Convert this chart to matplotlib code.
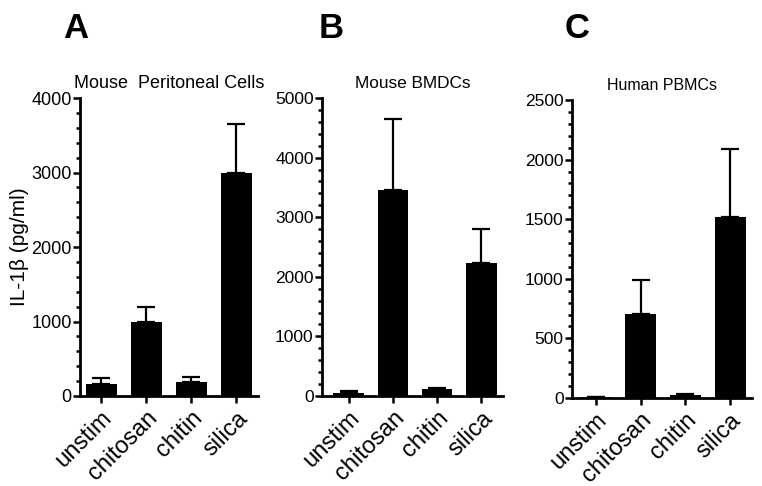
import matplotlib
matplotlib.use("Agg")
import matplotlib.pyplot as plt
from matplotlib.ticker import AutoMinorLocator, MultipleLocator

# ── Data ──────────────────────────────────────────────────────────────────
categories = ["unstim", "chitosan", "chitin", "silica"]

peritoneal_mean = [166, 989, 184, 2998]
peritoneal_err = [81, 211, 77, 651]

bmdc_mean = [55, 3464, 112, 2235]
bmdc_err = [25, 1190, 28, 575]

pbmc_mean = [5, 704, 28, 1522]
pbmc_err = [3, 282, 5, 570]

titles = ["Mouse  Peritoneal Cells", "Mouse BMDCs", "Human PBMCs"]
letters = ["A", "B", "C"]
ymax = [4000, 5000, 2500]
ystep = [1000, 1000, 500]

# ── Layout ────────────────────────────────────────────────────────────────
plt.rcParams["font.family"] = ["Liberation Sans", "DejaVu Sans"]

fig = plt.figure(figsize=(7.62, 4.86), dpi=100)
W, H = 762, 486
boxes = [(80, 258, 98, 396), (322, 503, 98, 396), (572, 752, 100, 398)]
xlims = [(-0.47, 3.48), (-0.6, 3.49), (-0.54, 3.49)]
title_sizes = [13, 12.4, 11.5]
tick_sizes = [13, 12.5, 12.5]
letter_x = [76, 331, 577]

series = [(peritoneal_mean, peritoneal_err),
          (bmdc_mean, bmdc_err),
          (pbmc_mean, pbmc_err)]

for i, (mean, err) in enumerate(series):
    x0, x1, y0, y1 = boxes[i]
    ax = fig.add_axes([x0 / W, 1 - y1 / H, (x1 - x0) / W, (y1 - y0) / H])
    pos = list(range(len(categories)))
    ax.bar(pos, mean, width=0.69, color="black", zorder=2)
    ax.errorbar(pos, mean, yerr=[[0] * len(err), err], fmt="none",
                ecolor="black", elinewidth=1.6, capsize=6.5, capthick=1.6,
                zorder=1)
    ax.set_xlim(*xlims[i])
    ax.set_ylim(0, ymax[i])
    ax.yaxis.set_major_locator(MultipleLocator(ystep[i]))
    ax.yaxis.set_minor_locator(AutoMinorLocator(5))
    ax.set_xticks(pos)
    ax.set_xticklabels(categories, rotation=45, ha="right",
                       rotation_mode="anchor", fontsize=17)
    ax.tick_params(axis="y", labelsize=tick_sizes[i], width=1.8, length=5,
                   pad=1)
    ax.tick_params(axis="y", which="minor", width=1.8, length=3)
    ax.tick_params(axis="x", width=1.8, length=5, pad=3)
    for s in ["top", "right"]:
        ax.spines[s].set_visible(False)
    for s in ["left", "bottom"]:
        ax.spines[s].set_linewidth(2.0)
    ax.set_title(titles[i], fontsize=title_sizes[i], pad=7)
    fig.text(letter_x[i] / W, 1 - 28 / H, letters[i], fontsize=25,
             fontweight="bold", ha="center", va="center")
    if i == 0:
        ax.set_ylabel("IL-1β (pg/ml)", fontsize=15, labelpad=2)

fig.savefig("out.png", dpi=100)
